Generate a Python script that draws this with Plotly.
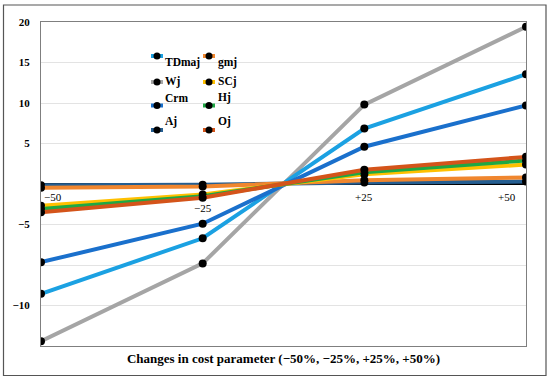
import plotly.graph_objects as go

# ---------------- data ----------------
categories = ["\u221250", "\u221225", "+25", "+50"]
series_names = ["TDmaj", "gmj", "Wj", "SCj", "Crm", "Hj", "Aj", "Oj"]
TDmaj = [-13.55, -6.7, 6.85, 13.55]
gmj = [-0.45, -0.3, 0.45, 0.8]
Wj = [-19.4, -9.8, 9.8, 19.4]
SCj = [-2.7, -1.3, 1.2, 2.4]
Crm = [-9.65, -4.9, 4.6, 9.7]
Hj = [-3.1, -1.5, 1.45, 2.9]
Aj = [-0.15, -0.1, 0.2, 0.3]
Oj = [-3.5, -1.7, 1.75, 3.35]
y_tickvals = [20, 15, 10, 5, 0, -5, -10, -15]
y_ticktext = ["20", "15", "10", "5", "", "\u22125", "", "\u221210"]
x_title = "Changes in cost parameter (\u221250%, \u221225%, +25%, +50%)"

values = {"TDmaj": TDmaj, "gmj": gmj, "Wj": Wj, "SCj": SCj,
          "Crm": Crm, "Hj": Hj, "Aj": Aj, "Oj": Oj}
colors = {"TDmaj": "#1BA1E2", "gmj": "#F0862E", "Wj": "#A5A5A5", "SCj": "#FFC000",
          "Crm": "#1A70CC", "Hj": "#1FA844", "Aj": "#255E91", "Oj": "#D4541A"}
draw_order = ["Wj", "TDmaj", "Crm", "Aj", "gmj", "SCj", "Hj", "Oj"]

# ---------------- layout geometry ----------------
W, H = 550, 381
L, R, T, B = 41, 24, 22, 35
PW, PH = W - L - R, H - T - B


def px2x(p):
    return (p - L) / PW


def py2y(p):
    return 1 - (p - T) / PH


SERIF = "Liberation Serif, Times New Roman, serif"

fig = go.Figure()
for name in draw_order:
    fig.add_trace(go.Scatter(
        x=categories, y=values[name], name=name, mode="lines+markers",
        line=dict(color=colors[name], width=4),
        marker=dict(color="black", size=8),
        showlegend=False, hoverinfo="skip",
    ))

shapes = []
annotations = []

# outer frame
shapes.append(dict(type="rect", xref="paper", yref="paper",
                   x0=px2x(3.5), x1=px2x(546), y0=py2y(375.5), y1=py2y(5),
                   line=dict(color="#555555", width=1.2), layer="above"))

# manual legend (two columns, as in the reference)
legend_marker_px = {
    "TDmaj": (157, 56), "gmj": (209, 56),
    "Wj": (157, 82), "SCj": (209, 82),
    "Crm": (157, 105.5), "Hj": (209, 105.5),
    "Aj": (157, 130), "Oj": (209, 130),
}
legend_text_px = {
    "TDmaj": (163, 62), "gmj": (216, 62),
    "Wj": (163, 81.5), "SCj": (216, 81.5),
    "Crm": (163, 98), "Hj": (216, 98),
    "Aj": (163, 121.5), "Oj": (216, 121.5),
}
for name in series_names:
    mx, my = legend_marker_px[name]
    shapes.append(dict(type="line", xref="paper", yref="paper",
                       xsizemode="pixel", xanchor=px2x(mx), x0=-6, x1=6,
                       y0=py2y(my), y1=py2y(my),
                       line=dict(color=colors[name], width=4)))
    shapes.append(dict(type="circle", xref="paper", yref="paper",
                       xsizemode="pixel", ysizemode="pixel",
                       xanchor=px2x(mx), yanchor=py2y(my),
                       x0=-3.5, x1=3.5, y0=-3.5, y1=3.5,
                       fillcolor="black", line=dict(color="black", width=0)))
    tx, ty = legend_text_px[name]
    annotations.append(dict(xref="paper", yref="paper", x=px2x(tx), y=py2y(ty),
                            text="<b>%s</b>" % name, showarrow=False,
                            xanchor="left", yanchor="middle",
                            font=dict(family=SERIF, size=11.5, color="black")))

# x tick labels drawn near the zero line (as in the reference)
x_label_anchor = ["left", "center", "center", "right"]
x_label_shift = [-13, -24, -13, -13]
x_label_xshift = [1, 0, 0, -8]
for i, (cat, anc, ys, xs) in enumerate(zip(categories, x_label_anchor,
                                            x_label_shift, x_label_xshift)):
    annotations.append(dict(x=i, y=0, xref="x", yref="y", text=cat,
                            showarrow=False, xanchor=anc, yanchor="middle",
                            yshift=ys, xshift=xs,
                            font=dict(family=SERIF, size=11, color="black")))

fig.update_layout(
    width=W, height=H,
    margin=dict(l=L, r=R, t=T, b=B, autoexpand=False),
    paper_bgcolor="white", plot_bgcolor="white",
    shapes=shapes, annotations=annotations,
    showlegend=False, hovermode=False,
    xaxis=dict(type="category", range=[0, 3], showticklabels=False,
               showgrid=False, zeroline=False, ticks="",
               showline=True, mirror=True, linecolor="#7F7F7F", linewidth=1,
               title=dict(text="<b>%s</b>" % x_title, standoff=7,
                          font=dict(family=SERIF, size=13, color="black"))),
    yaxis=dict(range=[-20, 20], tickmode="array", tickvals=y_tickvals,
               ticktext=["<b>%s</b>" % t if t else "" for t in y_ticktext],
               tickfont=dict(family=SERIF, size=11, color="black"),
               ticks="", ticklabelstandoff=8,
               showgrid=True, gridcolor="#E3E3E3", gridwidth=1,
               zeroline=True, zerolinecolor="black", zerolinewidth=1.5,
               showline=True, mirror=True, linecolor="#7F7F7F", linewidth=1),
)

fig.write_html("out.html",
               config={"displayModeBar": False, "staticPlot": True},
               post_script="document.body.style.margin='0';"
                           "document.body.style.overflow='hidden';")
